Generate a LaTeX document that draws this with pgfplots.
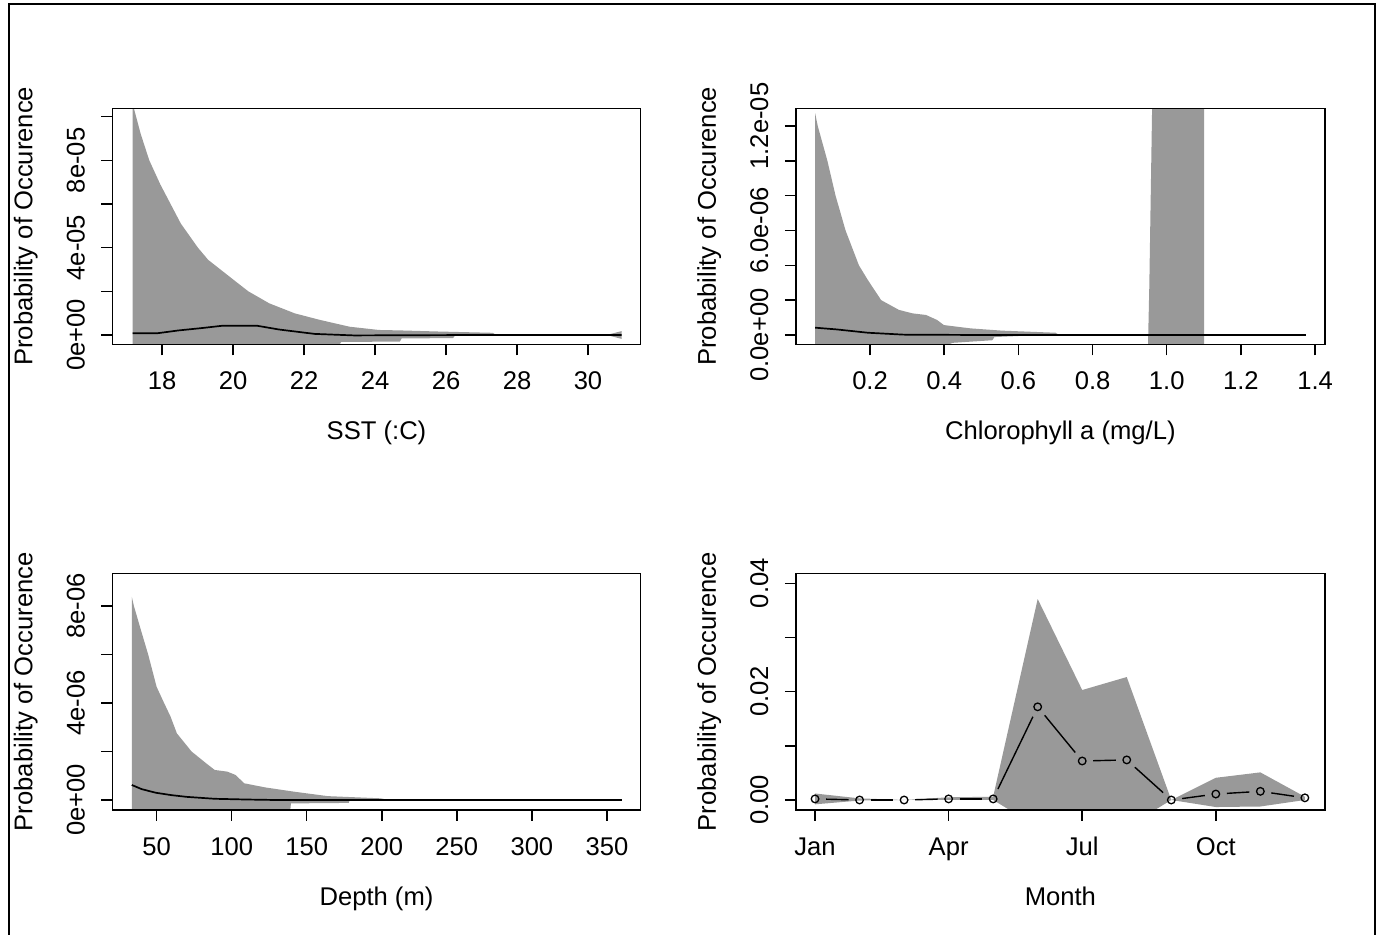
\documentclass[border=0pt]{standalone}
\usepackage{fontspec}
\setmainfont{Liberation Sans}
\usepackage{pgfplots}
\pgfplotsset{compat=1.18}
\definecolor{band}{HTML}{999999}
\newcommand{\rfont}{\fontsize{12.85pt}{15pt}\selectfont}
\pgfplotsset{
  rplot/.style={
    scale only axis, anchor=south west, clip=true, axis on top,
    axis line style={line width=0.75bp, black},
    every tick/.style={line width=0.75bp, black},
    major tick length=5.5bp, tick align=outside,
    xtick pos=bottom, ytick pos=left,
    scaled x ticks=false, scaled y ticks=false,
    tick label style={font=\rfont, text=black},
    label style={font=\rfont, text=black},
    xticklabel style={anchor=base, yshift=-17.35bp},
    yticklabel style={xshift=-8.4bp, rotate=90, anchor=base},
    every axis x label/.style={at={(axis description cs:0.5,0)}, anchor=base, yshift=-47.75bp},
    every axis y label/.style={at={(axis description cs:0,0.5)}, xshift=-40bp, rotate=90, anchor=base},
  },
  bandfill/.style={fill=band, draw=none},
  meanline/.style={black, line width=0.85bp, mark=none},
  seg/.style={black, line width=0.7bp, mark=none, shorten <=5.5bp, shorten >=5.5bp},
}
\begin{document}
\begin{tikzpicture}[font=\rfont]
\useasboundingbox (0,0) rectangle (690.5bp,467.5bp);
\draw[line width=1bp] (4.3bp,0) -- (4.3bp,465.25bp) -- (687.7bp,465.25bp) -- (687.7bp,0);

% Panel 1: SST
\begin{axis}[rplot, at={(56.2bp,295.35bp)}, width=264.1bp, height=118bp,
  xmin=16.601, xmax=31.482, ymin=-4.26e-6, ymax=1.0383e-4,
  xtick={18,20,22,24,26,28,30}, xticklabels={18,20,22,24,26,28,30},
  ytick={0,2e-5,4e-5,6e-5,8e-5,1e-4}, yticklabels={0e+00,,4e-05,,8e-05,},
  xlabel={SST (:C)}, ylabel={Probability of Occurence}]
\addplot[bandfill] coordinates {
 (17.17,1.06e-4) (17.40,9.2e-5) (17.64,8.0e-5) (17.95,6.9e-5) (18.24,6.0e-5) (18.53,5.1e-5) (19.01,4.0e-5)
 (19.30,3.44e-5) (20.02,2.52e-5) (20.43,2.0e-5) (21.02,1.45e-5) (21.74,9.9e-6)
 (22.45,6.9e-6) (23.28,3.8e-6) (24.11,2.3e-6) (24.7,2.1e-6) (25.77,1.6e-6)
 (27.31,1.0e-6) (27.4,0.2e-6) (30.55,0.1e-6) (30.95,1.8e-6)
 (30.95,-1.8e-6) (30.55,-0.1e-6) (26.25,-0.3e-6) (26.2,-1.4e-6) (24.75,-1.6e-6)
 (24.7,-3.0e-6) (23.05,-3.2e-6) (23.0,-4.3e-6) (20,-1.2e-5) (17.17,-3e-5)
} -- cycle;
\addplot[meanline] coordinates {
 (17.17,0.8e-6) (17.87,0.8e-6) (18.47,2.1e-6) (19.08,3.1e-6) (19.68,4.2e-6)
 (20.69,4.2e-6) (21.30,2.5e-6) (22.30,0.5e-6) (23.41,-0.2e-6) (25,-0.1e-6)
 (27,0) (30.95,0)
};
\end{axis}

% Panel 2: Chlorophyll
\begin{axis}[rplot, at={(397.9bp,295.35bp)}, width=264.55bp, height=118bp,
  xmin=-0.0002, xmax=1.4265, ymin=-5.34e-7, ymax=1.3017e-5,
  xtick={0.2,0.4,0.6,0.8,1.0,1.2,1.4}, xticklabels={0.2,0.4,0.6,0.8,1.0,1.2,1.4},
  ytick={0,2e-6,4e-6,6e-6,8e-6,1e-5,1.2e-5}, yticklabels={0.0e+00,,,6.0e-06,,,1.2e-05},
  xlabel={Chlorophyll a (mg/L)}, ylabel={Probability of Occurence}]
\addplot[bandfill] coordinates {
 (0.052,1.273e-5) (0.059,1.2e-5) (0.085,1.0e-5) (0.107,8e-6) (0.134,6e-6)
 (0.170,4e-6) (0.194,3.16e-6) (0.230,2e-6) (0.278,1.44e-6) (0.315,1.24e-6)
 (0.351,1.15e-6) (0.381,0.86e-6) (0.399,0.57e-6) (0.471,0.38e-6) (0.556,0.25e-6)
 (0.70,0.13e-6) (0.71,0)
 (0.66,0) (0.535,-0.12e-6) (0.53,-0.3e-6) (0.423,-0.45e-6) (0.30,-1.5e-6) (0.052,-5e-6)
} -- cycle;
\addplot[bandfill] coordinates {
 (0.947,-3e-6) (0.953,2.8e-6) (0.962,1.5e-5) (1.101,1.5e-5) (1.101,-3e-6)
} -- cycle;
\addplot[meanline] coordinates {
 (0.052,0.42e-6) (0.11,0.32e-6) (0.194,0.13e-6) (0.29,0.02e-6) (0.5,0) (1.375,0)
};
\end{axis}

% Panel 3: Depth
\begin{axis}[rplot, at={(56.2bp,62.5bp)}, width=264.1bp, height=118.35bp,
  xmin=20.56, xmax=372.43, ymin=-4.12e-7, ymax=9.35e-6,
  xtick={50,100,150,200,250,300,350}, xticklabels={50,100,150,200,250,300,350},
  ytick={0,2e-6,4e-6,6e-6,8e-6}, yticklabels={0e+00,,4e-06,,8e-06},
  xlabel={Depth (m)}, ylabel={Probability of Occurence}]
\addplot[bandfill] coordinates {
 (33.5,8.38e-6) (34.9,8e-6) (39.6,7.0e-6) (44.4,6e-6) (50,4.67e-6) (55,4e-6)
 (59.3,3.44e-6) (63.5,2.75e-6) (73.3,2e-6) (83.1,1.51e-6) (88.7,1.24e-6)
 (97.1,1.17e-6) (102.7,1.03e-6) (108.3,0.69e-6) (122.3,0.52e-6) (142,0.34e-6)
 (164,0.16e-6) (199,0.07e-6) (205,0)
 (178.5,-0.02e-6) (178,-0.12e-6) (139.5,-0.14e-6) (139,-0.45e-6) (120,-0.6e-6) (33.5,-3e-6)
} -- cycle;
\addplot[meanline] coordinates {
 (33.5,0.62e-6) (40,0.45e-6) (49.4,0.30e-6) (60,0.2e-6) (70,0.13e-6)
 (88.7,0.05e-6) (110,0.02e-6) (130,0) (360,0)
};
\end{axis}

% Panel 4: Month
\begin{axis}[rplot, at={(397.9bp,62.5bp)}, width=264.55bp, height=118.35bp,
  xmin=0.568, xmax=12.45, ymin=-0.001846, ymax=0.04185,
  xtick={1,4,7,10}, xticklabels={Jan,Apr,Jul,Oct},
  ytick={0,0.01,0.02,0.03,0.04}, yticklabels={0.00,,0.02,,0.04},
  xlabel={Month}, ylabel={Probability of Occurence}]
\addplot[bandfill] coordinates {
 (1,0.0012) (2,0.0003) (3,0) (4,0.0005) (5,0.0006) (6,0.0371) (7,0.0203)
 (8,0.0227) (9,0) (10,0.0041) (11,0.0051) (12,0.0006)
 (12,0) (11,-0.0012) (10,-0.0013) (9,0) (8,-0.005) (7,-0.005) (6,-0.005)
 (5,0) (4,0) (3,0) (2,-0.0001) (1,-0.0008)
} -- cycle;
\addplot[seg] coordinates {(1,0.0002) (2,0.0000)};
\addplot[seg] coordinates {(2,0.0000) (3,0.0000)};
\addplot[seg] coordinates {(3,0.0000) (4,0.0002)};
\addplot[seg] coordinates {(4,0.0002) (5,0.0002)};
\addplot[seg] coordinates {(5,0.0002) (6,0.0172)};
\addplot[seg] coordinates {(6,0.0172) (7,0.0072)};
\addplot[seg] coordinates {(7,0.0072) (8,0.0074)};
\addplot[seg] coordinates {(8,0.0074) (9,0.0000)};
\addplot[seg] coordinates {(9,0.0000) (10,0.0011)};
\addplot[seg] coordinates {(10,0.0011) (11,0.0016)};
\addplot[seg] coordinates {(11,0.0016) (12,0.0004)};
\addplot[only marks, mark=o, mark size=1.9bp, black, mark options={line width=0.65bp}] coordinates {
 (1,0.0002) (2,0.0000) (3,0.0000) (4,0.0002) (5,0.0002) (6,0.0172)
 (7,0.0072) (8,0.0074) (9,0.0000) (10,0.0011) (11,0.0016) (12,0.0004)
};
\end{axis}
\end{tikzpicture}
\end{document}
